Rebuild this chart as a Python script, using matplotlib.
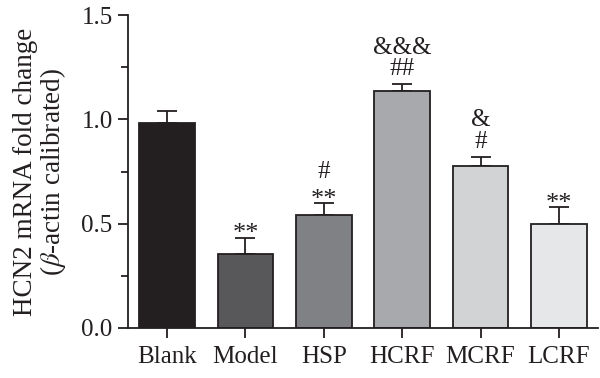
import matplotlib

matplotlib.use("Agg")
import matplotlib.pyplot as plt  # noqa: E402
from matplotlib.ticker import MultipleLocator, FormatStrFormatter  # noqa: E402

groups = ["Blank", "Model", "HSP", "HCRF", "MCRF", "LCRF"]
means = [0.982, 0.353, 0.541, 1.137, 0.776, 0.497]
errors = [0.058, 0.077, 0.056, 0.032, 0.045, 0.081]
# significance marks, bottom line first
marks = [[], ["**"], ["**", "#"], ["##", "&&&"], ["#", "&"], ["**"]]
colors = ["#231f20", "#58585a", "#808184", "#a7a9ac", "#d1d3d4", "#e6e7e8"]

plt.rcParams["font.family"] = ["Liberation Serif", "DejaVu Serif"]
plt.rcParams["mathtext.fontset"] = "stix"

INK = "#231f20"
# per mark kind: font size, baseline gap above cap (first line), step to next line (pt)
MARK_STYLE = {"*": (19, -1.5, 19.5), "#": (18, 6.5, 15.5), "&": (18, 6.5, 15.5)}

fig = plt.figure(figsize=(6, 3.78), dpi=100)
ax = fig.add_axes([0.2133, 0.1323, 0.7834, 0.8277])

x = range(len(groups))
ax.bar(x, means, width=0.71, color=colors, edgecolor=INK, linewidth=1.3, zorder=2)
ax.errorbar(x, means, yerr=[[0] * len(errors), errors], fmt="none",
            ecolor=INK, elinewidth=1.3, capsize=7, capthick=1.3, zorder=1)

for xi, m, e, labs in zip(x, means, errors, marks):
    off = None
    for lab in labs:
        size, gap, step = MARK_STYLE[lab[0]]
        off = gap if off is None else off
        ax.annotate(lab, (xi, m + e), xytext=(0, off), textcoords="offset points",
                    ha="center", va="baseline", fontsize=size, color=INK)
        off += step

ax.set_xlim(-0.5, 5.5)
ax.set_ylim(0, 1.5)
ax.yaxis.set_major_locator(MultipleLocator(0.5))
ax.yaxis.set_minor_locator(MultipleLocator(0.25))
ax.yaxis.set_major_formatter(FormatStrFormatter("%.1f"))
ax.set_xticks(list(x))
ax.set_xticklabels(groups)
ax.spines["top"].set_visible(False)
ax.spines["right"].set_visible(False)
for s in ("left", "bottom"):
    ax.spines[s].set_linewidth(1.3)
    ax.spines[s].set_color(INK)
ax.tick_params(axis="both", which="major", direction="out", length=7, width=1.3,
               labelsize=18, colors=INK, pad=4)
ax.tick_params(axis="x", which="major", pad=6)
ax.tick_params(axis="y", which="minor", direction="out", length=5, width=1.3,
               colors=INK)
ax.set_ylabel("HCN2 mRNA fold change\n($\\beta$-actin calibrated)", fontsize=19.5,
              color=INK, linespacing=1.0, labelpad=10)

fig.savefig("out.png", dpi=100)
